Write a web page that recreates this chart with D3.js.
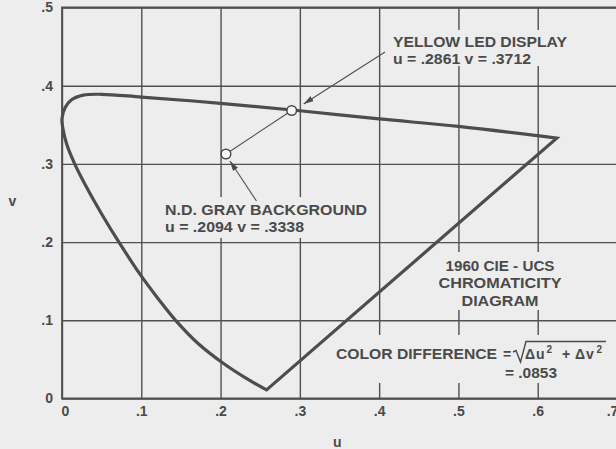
<!DOCTYPE html>
<html>
<head>
<meta charset="utf-8">
<script src="https://cdn.jsdelivr.net/npm/d3@7"></script>
<style>
  body { margin: 0; background: #ededed; }
  svg { display: block; }
  text { font-family: "Liberation Sans", Arial, sans-serif; font-weight: bold; fill: #4a4a4a; }
</style>
</head>
<body>
<svg id="chart"></svg>
<script>
// tick values and labels
const uTicks = [0, 0.1, 0.2, 0.3, 0.4, 0.5, 0.6, 0.7];
const uTickLabels = ["0", ".1", ".2", ".3", ".4", ".5", ".6", ".7"];
const vTicks = [0, 0.1, 0.2, 0.3, 0.4, 0.5];
const vTickLabels = ["0", ".1", ".2", ".3", ".4", ".5"];

// spectral locus (violet end -> red end)
const locusU = [0.258, 0.232, 0.202, 0.172, 0.145, 0.121, 0.099, 0.073, 0.050, 0.031, 0.016, 0.006, 0.001, 0.000, 0.004, 0.012, 0.027, 0.050, 0.100, 0.200, 0.300, 0.400, 0.500, 0.624];
const locusV = [0.011, 0.026, 0.046, 0.070, 0.098, 0.128, 0.158, 0.198, 0.236, 0.270, 0.300, 0.325, 0.346, 0.358, 0.372, 0.382, 0.388, 0.389, 0.3855, 0.3775, 0.368, 0.3575, 0.348, 0.333];

// the two measured colours (as plotted)
const pointNames = ["YELLOW LED DISPLAY", "N.D. GRAY BACKGROUND"];
const pointValues = ["u = .2861  v = .3712", "u = .2094  v = .3338"];
const pointU = [0.2897, 0.2068];
const pointV = [0.3683, 0.3127];

const titleLines = ["1960 CIE - UCS", "CHROMATICITY", "DIAGRAM"];
const diffValue = "= .0853";

const W = 616, H = 449;
const svg = d3.select("#chart").attr("width", W).attr("height", H);

const x = d3.scaleLinear().domain([0, 0.7]).range([62, 617]);
const y = d3.scaleLinear().domain([0, 0.5]).range([398.5, 7.5]);

const bg = "#ededed", ink = "#505050";

// grid via axes
const xAxis = svg.append("g")
    .attr("transform", "translate(0," + y(0) + ")")
    .call(d3.axisBottom(x).tickValues(uTicks).tickSize(-(y(0) - y(0.5)))
        .tickPadding(8).tickFormat((d, i) => uTickLabels[i]));
const yAxis = svg.append("g")
    .attr("transform", "translate(" + x(0) + ",0)")
    .call(d3.axisLeft(y).tickValues(vTicks).tickSize(-(x(0.7) - x(0)))
        .tickPadding(9).tickFormat((d, i) => vTickLabels[i]));

[xAxis, yAxis].forEach(a => {
    a.select(".domain").remove();
    a.selectAll(".tick line").attr("stroke", ink).attr("stroke-width", 1.4);
    a.selectAll(".tick text").style("font-size", "14px").attr("fill", "#4a4a4a");
});
xAxis.selectAll(".tick text").filter((d, i) => i === 0).attr("dx", 3);
xAxis.selectAll(".tick text").filter((d, i) => i === uTicks.length - 1).attr("dx", -5);

// borders
svg.append("path")
    .attr("d", "M" + x(0.7) + "," + y(0.5) + "H" + x(0) + "V" + y(0) + "H" + x(0.7))
    .attr("fill", "none").attr("stroke", ink).attr("stroke-width", 1.8);

// paper knock-outs behind the lettering
const knock = [[388, 30, 186, 36], [160, 197, 214, 41], [438, 252, 128, 58], [328, 335, 284, 48]];
svg.selectAll(".knock").data(knock).enter().append("rect")
    .attr("x", d => d[0]).attr("y", d => d[1]).attr("width", d => d[2]).attr("height", d => d[3])
    .attr("fill", bg);

// locus + line of purples
const pts = locusU.map((u, i) => [u, locusV[i]]);
const line = d3.line().x(d => x(d[0])).y(d => y(d[1])).curve(d3.curveCatmullRom.alpha(0.5));
svg.append("path")
    .attr("d", line(pts) + "Z")
    .attr("fill", "none").attr("stroke", "#4d4d4d").attr("stroke-width", 3.2)
    .attr("stroke-linejoin", "miter");

// arrowhead
svg.append("defs").append("marker")
    .attr("id", "ah").attr("viewBox", "0 0 10 6").attr("refX", 10).attr("refY", 3)
    .attr("markerWidth", 10).attr("markerHeight", 6).attr("markerUnits", "userSpaceOnUse")
    .attr("orient", "auto")
    .append("path").attr("d", "M0,0L10,3L0,6Z").attr("fill", "#4a4a4a");

const px = pointU.map(u => x(u)), py = pointV.map(v => y(v));

// line joining the two colours
svg.append("line")
    .attr("x1", px[1]).attr("y1", py[1]).attr("x2", px[0]).attr("y2", py[0])
    .attr("stroke", ink).attr("stroke-width", 1.1);

// pointer arrows
svg.append("line")
    .attr("x1", 385).attr("y1", 52).attr("x2", px[0] + 12).attr("y2", py[0] - 6.5)
    .attr("stroke", ink).attr("stroke-width", 1.1).attr("marker-end", "url(#ah)");
svg.append("line")
    .attr("x1", 256.5).attr("y1", 201).attr("x2", px[1] + 4).attr("y2", py[1] + 7)
    .attr("stroke", ink).attr("stroke-width", 1.1).attr("marker-end", "url(#ah)");

svg.selectAll(".pt").data(pointU).enter().append("circle")
    .attr("cx", (d, i) => px[i]).attr("cy", (d, i) => py[i]).attr("r", 4.8)
    .attr("fill", "#fafafa").attr("stroke", "#4a4a4a").attr("stroke-width", 1.5);

// labels for the points
const labelPos = [[393, 46.5, 174, 531], [165, 215, 202, 304]];
labelPos.forEach((p, i) => {
    svg.append("text").attr("x", p[0]).attr("y", p[1]).style("font-size", "14px")
        .attr("textLength", p[2]).attr("lengthAdjust", "spacingAndGlyphs").text(pointNames[i]);
    svg.append("text").attr("x", p[0]).attr("y", p[1] + 17).style("font-size", "14px")
        .attr("textLength", p[3] - p[0]).attr("lengthAdjust", "spacingAndGlyphs").text(pointValues[i]);
});

// diagram title
const titleW = [109, 123, 77];
titleLines.forEach((t, i) => {
    svg.append("text").attr("x", 500 - titleW[i] / 2).attr("y", 271 + i * 17.3)
        .style("font-size", "14px")
        .attr("textLength", titleW[i]).attr("lengthAdjust", "spacingAndGlyphs").text(t);
});

// colour difference formula
svg.append("text").attr("x", 336).attr("y", 359).style("font-size", "14px")
    .attr("textLength", 161).attr("lengthAdjust", "spacingAndGlyphs").text("COLOR DIFFERENCE");
svg.append("text").attr("x", 503).attr("y", 359).style("font-size", "14px").text("=");
svg.append("path").attr("d", "M513,352 L516,350.5 L520.5,362 L526,341.5 H606")
    .attr("fill", "none").attr("stroke", "#4a4a4a").attr("stroke-width", 1.4);
const formula = [["Δ", 525, 359, 14], ["u", 536, 359, 14], ["2", 546.5, 353, 10],
                 ["+", 562, 359, 14], ["Δ", 575, 359, 14], ["v", 586, 359, 14], ["2", 596.5, 353, 10]];
formula.forEach(f => {
    svg.append("text").attr("x", f[1]).attr("y", f[2]).style("font-size", f[3] + "px").text(f[0]);
});
svg.append("text").attr("x", 505).attr("y", 377.5).style("font-size", "14px")
    .attr("textLength", 52).attr("lengthAdjust", "spacingAndGlyphs").text(diffValue);

// axis names
svg.append("text").attr("x", 8.5).attr("y", 206).style("font-size", "14px").text("v");
svg.append("text").attr("x", 333).attr("y", 446.5).style("font-size", "14px").text("u");
</script>
</body>
</html>
